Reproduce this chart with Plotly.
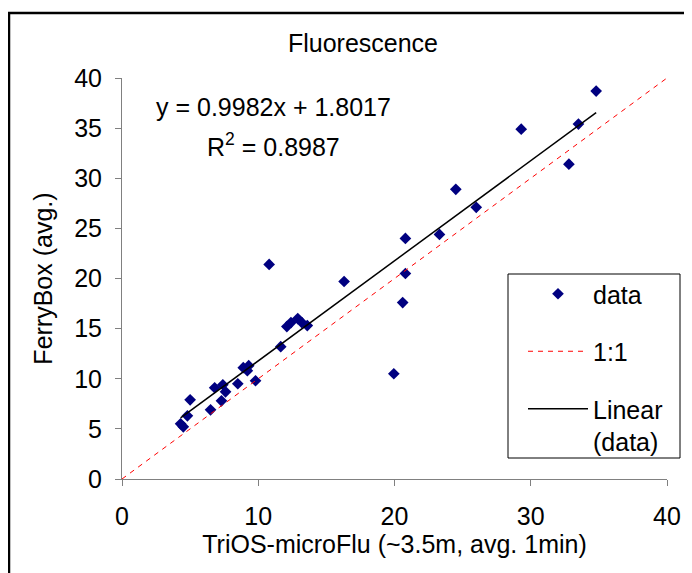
#
#   plot.py
#   FerryBox vs TriOS-microFlu fluorescence scatter, 1:1 line and linear fit
#

import plotly.graph_objects as go

#
#   data
#
trios = [4.3, 4.5, 4.8, 5.0, 6.5, 6.8, 7.3, 7.4, 7.6, 8.5, 8.9, 9.2, 9.3, 9.8,
         10.8, 11.65, 12.1, 12.4, 12.9, 13.2, 13.6, 16.3, 19.95, 20.6, 20.8, 20.8,
         23.3, 24.5, 26.0, 29.3, 32.8, 33.5, 34.8]
ferrybox = [5.5, 5.2, 6.3, 7.9, 6.9, 9.1, 7.8, 9.4, 8.7, 9.5, 11.1, 10.8, 11.3, 9.8,
            21.4, 13.2, 15.2, 15.6, 16.0, 15.6, 15.3, 19.7, 10.5, 17.6, 20.5, 24.0,
            24.4, 28.9, 27.1, 34.9, 31.4, 35.4, 38.7]

one_to_one = [0, 40]
slope = 0.9982
intercept = 1.8017
r2 = 0.8987

x_ticks = [0, 10, 20, 30, 40]
y_ticks = [0, 5, 10, 15, 20, 25, 30, 35, 40]

FONT = "Liberation Sans, Arial, sans-serif"
FS = 25

#   page is drawn with an 8px body margin -> shift everything by that
OFF = 8
PL, PR, PT, PB = 122, 667, 78, 479     # plot area on screen (px)
PW, PH = PR - PL, PB - PT


def px2paper(x, y):
    return (x - PL) / PW, (PB - y) / PH


#   trendline over data range
fit_x = [min(trios), max(trios)]
fit_y = [slope * v + intercept for v in fit_x]

fig = go.Figure()
fig.add_trace(go.Scatter(x=trios, y=ferrybox, mode='markers', name='data',
                         marker=dict(symbol='diamond', size=9, color='#000080'),
                         legendgroup='a'))
fig.add_trace(go.Scatter(x=one_to_one, y=one_to_one, mode='lines', name='1:1',
                         line=dict(color='#ff0000', width=1, dash='5px,5px'),
                         legendgroup='b'))
fig.add_trace(go.Scatter(x=fit_x, y=fit_y, mode='lines', name='Linear<br>(data)',
                         line=dict(color='#000000', width=1.5),
                         legendgroup='c'))

axis_common = dict(showline=True, linecolor='#808080', linewidth=1,
                   ticks='outside', tickcolor='#808080', ticklen=6,
                   showgrid=False, zeroline=False,
                   tickfont=dict(family=FONT, size=FS, color='#000'),
                   title_font=dict(family=FONT, size=FS, color='#000'))

fig.update_xaxes(range=[0, 40], tickvals=x_ticks, ticklabelstandoff=9,
                 title_text='TriOS-microFlu (~3.5m, avg. 1min)', title_standoff=5,
                 **axis_common)
fig.update_yaxes(range=[0, 40], tickvals=y_ticks, ticklabelstandoff=8,
                 title_text='FerryBox (avg.)', title_standoff=14,
                 **axis_common)

#   regression text
ax, ay = px2paper(273, 107)
fig.add_annotation(xref='paper', yref='paper', x=ax, y=ay,
                   xanchor='center', yanchor='middle', showarrow=False,
                   text=f'y = {slope}x + {intercept}',
                   font=dict(family=FONT, size=FS, color='#000'))
ax, ay = px2paper(273, 145)
fig.add_annotation(xref='paper', yref='paper', x=ax, y=ay,
                   xanchor='center', yanchor='middle', showarrow=False,
                   text=f'R<sup>2</sup> = {r2}',
                   font=dict(family=FONT, size=FS, color='#000'))

#   outer chart frame (cut off at right / bottom like the original)
fx0, fy1 = px2paper(9, 13)
fig.add_shape(type='rect', xref='paper', yref='paper',
              x0=fx0, x1=1.2, y0=-0.4, y1=fy1,
              line=dict(color='#000', width=2.5), layer='below')

#   legend box
bx0, by1 = px2paper(508, 274)
bx1, by0 = px2paper(680, 458)
fig.add_shape(type='rect', xref='paper', yref='paper',
              x0=bx0, x1=bx1, y0=by0, y1=by1,
              line=dict(color='#000', width=1), fillcolor='white', layer='below')

lx, ly = px2paper(523, 271)

fig.update_layout(
    width=692, height=573,
    margin=dict(l=PL - OFF, r=692 - PR + OFF, t=PT - OFF, b=573 - PB + OFF),
    paper_bgcolor='white', plot_bgcolor='white',
    font=dict(family=FONT, color='#000'),
    title=dict(text='Fluorescence', x=(363 - OFF) / 692, xanchor='center',
               y=1 - (43 - OFF) / 573, yanchor='middle',
               font=dict(family=FONT, size=FS, color='#000')),
    legend=dict(x=lx, y=ly, xanchor='left', yanchor='top',
                bgcolor='rgba(0,0,0,0)', borderwidth=0,
                font=dict(family=FONT, size=FS, color='#000'),
                tracegroupgap=22, itemwidth=60, valign='top'),
    showlegend=True,
)

fig.write_html("out.html")
